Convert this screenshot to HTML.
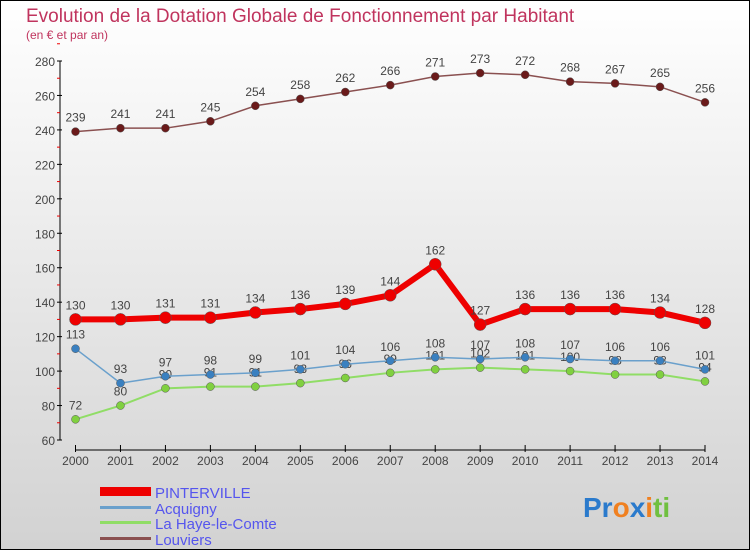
<!DOCTYPE html>
<html><head><meta charset="utf-8"><style>
body{margin:0;width:750px;height:550px;overflow:hidden;font-family:"Liberation Sans",sans-serif}
</style></head><body>
<svg id="c" width="750" height="550" xmlns="http://www.w3.org/2000/svg">
<defs><linearGradient id="bg" x1="0" y1="0" x2="0" y2="1"><stop offset="0" stop-color="#ffffff"/><stop offset="1" stop-color="#d2d2d2"/></linearGradient></defs>
<rect x="0.5" y="0.5" width="749" height="549" fill="url(#bg)" stroke="#000"/>
<text x="26" y="22" font-size="19" fill="#c0345e">Evolution de la Dotation Globale de Fonctionnement par Habitant</text>
<text x="26" y="39" font-size="12" fill="#c0345e">(en € et par an)</text>
<g id="axes"></g><g id="series"></g>
<g font-size="15" fill="#5555ee">
<rect x="100" y="487" width="51" height="9" fill="#ee0000"/>
<text x="155" y="498">PINTERVILLE</text>
<rect x="100" y="506" width="51" height="3" fill="#6aa0cc"/>
<text x="155" y="514">Acquigny</text>
<rect x="100" y="521" width="51" height="3" fill="#90dd66"/>
<text x="155" y="529">La Haye-le-Comte</text>
<rect x="100" y="537" width="51" height="3" fill="#8a5050"/>
<text x="155" y="545">Louviers</text>
</g>
<g font-size="28" font-weight="bold">
<text x="583" y="517"><tspan fill="#2a7acc">Pr</tspan><tspan fill="#f08020">o</tspan><tspan fill="#2a7acc">x</tspan><tspan fill="#f08020">i</tspan><tspan fill="#70c040">ti</tspan></text>
</g>
</svg>
<script>
const years=[2000,2001,2002,2003,2004,2005,2006,2007,2008,2009,2010,2011,2012,2013,2014];
const pinterville=[130,130,131,131,134,136,139,144,162,127,136,136,136,134,128];
const acquigny=[113,93,97,98,99,101,104,106,108,107,108,107,106,106,101];
const laHaye=[72,80,90,91,91,93,96,99,101,102,101,100,98,98,94];
const louviers=[239,241,241,245,254,258,262,266,271,273,272,268,267,265,256];
const yTicks=[60,80,100,120,140,160,180,200,220,240,260,280];
const NS='http://www.w3.org/2000/svg';
const xS=i=>75.5+i*(705-75.5)/(years.length-1);
const yS=v=>440-(v-60)*(440-61)/220;
function mk(t,a,p){const e=document.createElementNS(NS,t);for(const k in a)e.setAttribute(k,a[k]);p.appendChild(e);return e;}
const ax=document.getElementById('axes');
const ya=mk('line',{x1:60,y1:61,x2:60,y2:440,stroke:'#000'},ax);


yTicks.forEach(v=>{
 mk('line',{x1:57,x2:62,y1:yS(v),y2:yS(v),stroke:'#000'},ax);
 mk('line',{x1:57,x2:60,y1:yS(v+10),y2:yS(v+10),stroke:'#e00'},ax);
 const t=mk('text',{x:55,y:yS(v)+5,'text-anchor':'end','font-size':12,fill:'#444'},ax);
 t.textContent=v;
 
 
});
const xa=mk('line',{x1:75.5,y1:450,x2:705,y2:450,stroke:'#000'},ax);


years.forEach((y,i)=>{
 mk('line',{x1:xS(i),x2:xS(i),y1:445,y2:452,stroke:'#000'},ax);
 const t=mk('text',{x:xS(i),y:465,'text-anchor':'middle','font-size':12,fill:'#444'},ax);
 t.textContent=y;
 
 
});
const sg=document.getElementById('series');
function series(vals,name,color,w,r,dot){
 const g=mk('g',{},sg);
 
 
 mk('polyline',{points:vals.map((v,i)=>xS(i)+','+yS(v)).join(' '),fill:'none',stroke:color,'stroke-width':w},g);
 vals.forEach((v,i)=>{
  const c=mk('circle',{cx:xS(i),cy:yS(v),r:r,fill:dot,stroke:'#555','stroke-width':0.5},g);
  
  
  const t=mk('text',{x:xS(i),y:yS(v)-10,'text-anchor':'middle','font-size':12,fill:'#444'},g);
  t.textContent=v;
  
  
 });
}
series(laHaye,'la-haye','#90dd66',2,4,'#80d040');
series(acquigny,'acquigny','#6aa0cc',1.5,4,'#3a80c0');
series(louviers,'louviers','#8a5050',1.5,4,'#6a1a1a');
series(pinterville,'pinterville','#ee0000',6,6,'#ee0000');
</script>
</body></html>
